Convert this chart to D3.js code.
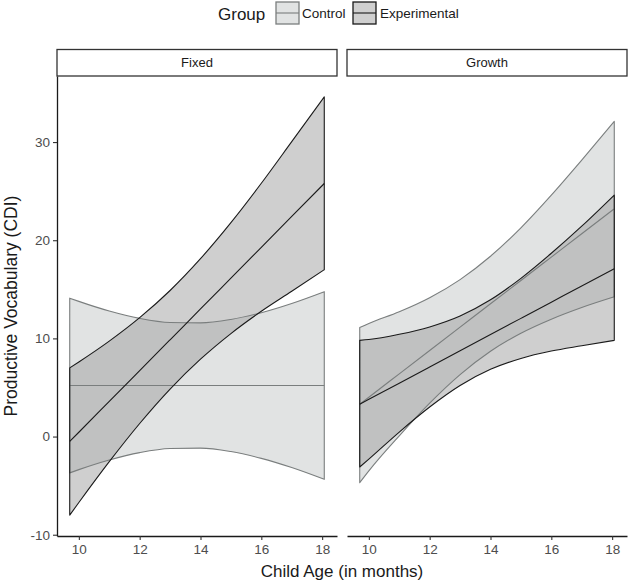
<!DOCTYPE html>
<html>
<head>
<meta charset="utf-8">
<script src="https://cdn.jsdelivr.net/npm/d3@7"></script>
<style>
  html, body { margin: 0; padding: 0; background: #ffffff; }
  svg { display: block; font-family: "Liberation Sans", Arial, Helvetica, sans-serif; }
</style>
</head>
<body>
<svg id="chart" width="629" height="582"></svg>
<script>
// ---- data ----
const panels = ["Fixed", "Growth"];
const groups = ["Control", "Experimental"];
const ages = [9.7, 10, 11, 12, 13, 14, 15, 16, 17, 18.07];

// Fixed panel
const fixedControlFit   = [5.2, 5.2, 5.2, 5.2, 5.2, 5.2, 5.2, 5.2, 5.2, 5.2];
const fixedControlUpper = [14.1, 13.77, 12.79, 12.04, 11.62, 11.58, 11.93, 12.62, 13.56, 14.76];
const fixedControlLower = [-3.7, -3.37, -2.39, -1.64, -1.22, -1.18, -1.53, -2.22, -3.16, -4.36];
const fixedExpFit   = [-0.5, 0.44, 3.58, 6.72, 9.86, 13.0, 16.14, 19.28, 22.42, 25.78];
const fixedExpUpper = [7.0, 7.6, 9.72, 12.11, 14.88, 18.12, 21.79, 25.8, 30.04, 34.6];
const fixedExpLower = [-8.0, -6.72, -2.56, 1.33, 4.84, 7.88, 10.49, 12.76, 14.8, 17.0];

// Growth panel
const growthControlFit   = [3.3, 4.01, 6.39, 8.77, 11.15, 13.53, 15.9, 18.28, 20.66, 23.2];
const growthControlUpper = [11.1, 11.52, 12.71, 14.14, 15.99, 18.37, 21.27, 24.6, 28.17, 32.1];
const growthControlLower = [-4.7, -3.5, 0.07, 3.4, 6.31, 8.69, 10.53, 11.96, 13.15, 14.24];
const growthExpFit   = [3.3, 3.79, 5.44, 7.09, 8.74, 10.39, 12.04, 13.69, 15.34, 17.1];
const growthExpUpper = [9.8, 9.88, 10.42, 11.17, 12.28, 13.93, 16.12, 18.67, 21.43, 24.6];
const growthExpLower = [-3.1, -2.3, 0.46, 3.01, 5.2, 6.85, 7.96, 8.71, 9.25, 9.8];

const xTicks = [10, 12, 14, 16, 18];
const yTicks = [-10, 0, 10, 20, 30];

const series = {
  Fixed: {
    Control: {fit: fixedControlFit, upper: fixedControlUpper, lower: fixedControlLower},
    Experimental: {fit: fixedExpFit, upper: fixedExpUpper, lower: fixedExpLower}
  },
  Growth: {
    Control: {fit: growthControlFit, upper: growthControlUpper, lower: growthControlLower},
    Experimental: {fit: growthExpFit, upper: growthExpUpper, lower: growthExpLower}
  }
};

const style = {
  Control: {fill: "#c4c8c8", opacity: 0.5, stroke: "#7a7e7e"},
  Experimental: {fill: "#a0a0a0", opacity: 0.5, stroke: "#1a1a1a"}
};

// ---- layout ----
const svg = d3.select("#chart");
const plotTop = 76, plotBottom = 536, stripTop = 49.5;
const panelX = {Fixed: [57, 337], Growth: [347, 627]};

const xDom = [d3.min(ages), d3.max(ages)];
const xPad = (xDom[1] - xDom[0]) * 0.05;
const allY = [].concat(fixedExpUpper, fixedExpLower, fixedControlUpper, fixedControlLower,
                       growthControlUpper, growthControlLower, growthExpUpper, growthExpLower);
const yDom = [d3.min(allY), d3.max(allY)];
const yPad = (yDom[1] - yDom[0]) * 0.05;
const y = d3.scaleLinear().domain([yDom[0] - yPad, yDom[1] + yPad]).range([plotBottom, plotTop]);
const plainFmt = d => String(d);

panels.forEach((p, pi) => {
  const [x0, x1] = panelX[p];
  const x = d3.scaleLinear().domain([xDom[0] - xPad, xDom[1] + xPad]).range([x0, x1]);
  const g = svg.append("g");

  // ribbons
  groups.forEach(gr => {
    const s = series[p][gr];
    const rows = ages.map((a, i) => ({a, lo: s.lower[i], hi: s.upper[i], fit: s.fit[i]}));
    const area = d3.area().x(d => x(d.a)).y0(d => y(d.lo)).y1(d => y(d.hi)).curve(d3.curveMonotoneX);
    g.append("path").attr("d", area(rows))
      .attr("fill", style[gr].fill).attr("fill-opacity", style[gr].opacity).attr("stroke", "none");
  });
  groups.forEach(gr => {
    const s = series[p][gr];
    const rows = ages.map((a, i) => ({a, lo: s.lower[i], hi: s.upper[i], fit: s.fit[i]}));
    const area = d3.area().x(d => x(d.a)).y0(d => y(d.lo)).y1(d => y(d.hi)).curve(d3.curveMonotoneX);
    g.append("path").attr("d", area(rows) + "Z")
      .attr("fill", "none").attr("stroke", style[gr].stroke).attr("stroke-width", 1.1)
      .attr("stroke-linejoin", "round");
    const line = d3.line().x(d => x(d.a)).y(d => y(d.fit)).curve(d3.curveMonotoneX);
    g.append("path").attr("d", line(rows))
      .attr("fill", "none").attr("stroke", style[gr].stroke).attr("stroke-width", 1.1);
  });

  // strip
  svg.append("rect").attr("x", x0).attr("y", stripTop).attr("width", x1 - x0).attr("height", plotTop - stripTop)
    .attr("fill", "#ffffff").attr("stroke", "#333333").attr("stroke-width", 1.3);
  svg.append("text").attr("x", (x0 + x1) / 2).attr("y", (stripTop + plotTop) / 2 + 4.5)
    .attr("text-anchor", "middle").attr("font-size", 13).attr("fill", "#1a1a1a").text(p);

  // x axis
  const xa = svg.append("g").attr("transform", `translate(0,${plotBottom})`)
    .call(d3.axisBottom(x).tickValues(xTicks).tickFormat(plainFmt).tickSize(4).tickPadding(4).tickSizeOuter(0));
  xa.select(".domain").attr("stroke", "#1a1a1a").attr("stroke-width", 1.3);
  xa.selectAll(".tick line").attr("stroke", "#333333").attr("stroke-width", 1.1);
  xa.selectAll(".tick text").attr("font-size", 13.5).attr("fill", "#4d4d4d")
    .attr("font-family", "'Liberation Sans', Arial, sans-serif");

  if (pi === 0) {
    const ya = svg.append("g").attr("transform", `translate(${x0},0)`)
      .call(d3.axisLeft(y).tickValues(yTicks).tickFormat(plainFmt).tickSize(4).tickPadding(3).tickSizeOuter(0));
    ya.select(".domain").attr("stroke", "#1a1a1a").attr("stroke-width", 1.3);
    ya.selectAll(".tick line").attr("stroke", "#333333").attr("stroke-width", 1.1);
    ya.selectAll(".tick text").attr("font-size", 13.5).attr("fill", "#4d4d4d")
      .attr("font-family", "'Liberation Sans', Arial, sans-serif");
  }
});

// axis titles
svg.append("text").attr("x", 342).attr("y", 577).attr("text-anchor", "middle")
  .attr("font-size", 17).attr("fill", "#1a1a1a").text("Child Age (in months)");
svg.append("text").attr("transform", "translate(17,306) rotate(-90)").attr("text-anchor", "middle")
  .attr("font-size", 17.5).attr("fill", "#1a1a1a").text("Productive Vocabulary (CDI)");

// legend
const lg = svg.append("g");
lg.append("text").attr("x", 218).attr("y", 20).attr("font-size", 17).attr("fill", "#1a1a1a").text("Group");
const keyX = {Control: 276, Experimental: 353};
const labX = {Control: 302, Experimental: 380};
groups.forEach(gr => {
  const kx = keyX[gr];
  lg.append("rect").attr("x", kx).attr("y", 2).attr("width", 23).attr("height", 22)
    .attr("fill", style[gr].fill).attr("fill-opacity", style[gr].opacity)
    .attr("stroke", style[gr].stroke).attr("stroke-width", 1.3);
  lg.append("line").attr("x1", kx).attr("x2", kx + 23).attr("y1", 13).attr("y2", 13)
    .attr("stroke", style[gr].stroke).attr("stroke-width", 1.1);
  lg.append("text").attr("x", labX[gr]).attr("y", 18).attr("font-size", 13.5).attr("fill", "#1a1a1a").text(gr);
});
</script>
</body>
</html>
